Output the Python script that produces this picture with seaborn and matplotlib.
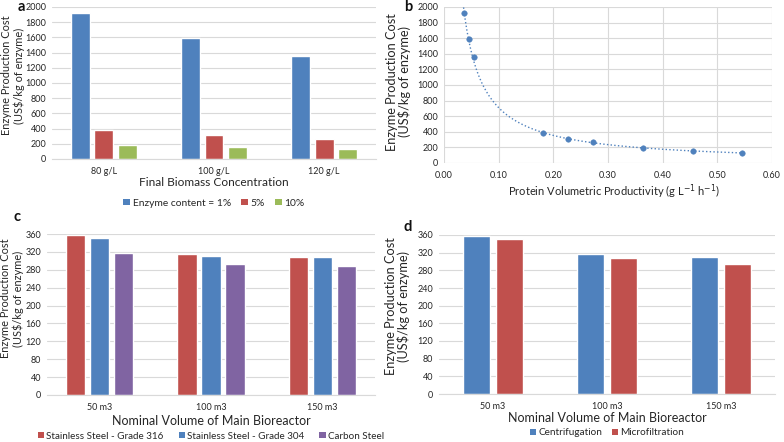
import numpy as np
import pandas as pd
import matplotlib
matplotlib.use("Agg")
import matplotlib.pyplot as plt
from matplotlib.patches import Patch
import seaborn as sns

sns.set_style("white")
plt.rcParams['font.family'] = ['Lato', 'DejaVu Sans']

# ---- data ----
biomass_cats = ["80 g/L", "100 g/L", "120 g/L"]
enzyme_series = ["Enzyme content = 1%", "5%", "10%"]
cost_1pct = [1925, 1595, 1360]
cost_5pct = [380, 310, 265]
cost_10pct = [185, 155, 130]

productivity = [0.036, 0.045, 0.054, 0.182, 0.227, 0.273, 0.364, 0.455, 0.545]
prod_cost = [1925, 1595, 1360, 380, 310, 265, 190, 155, 130]

volume_cats = ["50 m3", "100 m3", "150 m3"]
material_series = ["Stainless Steel - Grade 316", "Stainless Steel - Grade 304", "Carbon Steel"]
cost_ss316 = [358, 315, 309]
cost_ss304 = [351, 311, 309]
cost_carbon = [318, 292, 289]

sep_series = ["Centrifugation", "Microfiltration"]
cost_centrif = [357, 317, 310]
cost_microf = [352, 307, 295]

BLUE = "#4F81BD"
RED = "#C0504D"
GREEN = "#9BBB59"
PURPLE = "#8064A2"
GRID = "#D9D9D9"
TXT = "#262626"
YLAB = "Enzyme Production Cost\n(US$/kg of enzyme)"

W, H = 784, 442
fig = plt.figure(figsize=(W / 100, H / 100), dpi=100)


def add_ax(left, right, top, bottom):
    return fig.add_axes([left / W, 1 - bottom / H, (right - left) / W, (bottom - top) / H])


def long_df(cats, names, arrays):
    rows = []
    for name, arr in zip(names, arrays):
        for c, v in zip(cats, arr):
            rows.append({"cat": c, "series": name, "val": v})
    return pd.DataFrame(rows)


def set_labels(ax, xlabel, xsize, xcoords, ysize, ycoords, yls):
    ax.set_xlabel(xlabel, fontsize=xsize, color=TXT)
    ax.xaxis.set_label_coords(*xcoords)
    ax.set_ylabel(YLAB, fontsize=ysize, color=TXT, linespacing=yls)
    ax.yaxis.set_label_coords(*ycoords)


def style_bar_ax(ax, ymax, step):
    ax.set_ylim(0, ymax)
    ax.set_yticks(np.arange(0, ymax + 1, step))
    ax.set_xlim(-0.47, 2.47)
    ax.yaxis.grid(True, color=GRID, lw=0.8)
    ax.set_axisbelow(True)
    for s in ["top", "right", "left"]:
        ax.spines[s].set_visible(False)
    ax.spines["bottom"].set_color(GRID)
    ax.tick_params(axis="both", length=0, labelsize=6.5, colors=TXT, pad=4)
    ax.tick_params(axis="x", pad=6)


def bar_legend(ax, names, colors, anchor_y, spacing, size):
    handles = [Patch(facecolor=c, edgecolor="none", label=n) for n, c in zip(names, colors)]
    leg = ax.legend(handles=handles, loc="center", bbox_to_anchor=(0.5, anchor_y),
                    bbox_transform=ax.transAxes, ncol=len(handles), frameon=False,
                    fontsize=size, handlelength=0.65, handleheight=0.65,
                    handletextpad=0.25, columnspacing=spacing, borderaxespad=0, borderpad=0)
    for t in leg.get_texts():
        t.set_color(TXT)
    return leg


# ---- panel a ----
axa = add_ax(52, 376, 7, 159)
pal_a = [BLUE, RED, GREEN]
dfa = long_df(biomass_cats, enzyme_series, [cost_1pct, cost_5pct, cost_10pct])
sns.barplot(data=dfa, x="cat", y="val", hue="series", palette=pal_a,
            width=0.645, gap=0.2, ax=axa, saturation=1, legend=False)
style_bar_ax(axa, 2000, 200)
set_labels(axa, "Final Biomass Concentration", 8.6, (0.5, -0.118), 7.9, (-0.082, 0.55), 1.2)
bar_legend(axa, enzyme_series, pal_a, -0.29, 1.0, 7.4)

# ---- panel b ----
axb = add_ax(444, 772, 7, 163)
x = np.array(productivity)
y = np.array(prod_cost)
b_exp, log_a = np.polyfit(np.log(x), np.log(y), 1)
xf = np.linspace(x.min() * 0.97, x.max(), 300)
yf = np.exp(log_a) * xf ** b_exp
sns.lineplot(x=xf, y=yf, ax=axb, color=BLUE, lw=1, linestyle=":")
sns.scatterplot(x=x, y=y, ax=axb, color=BLUE, s=16, edgecolor=BLUE, zorder=3)
axb.set_xlim(0, 0.6)
axb.set_ylim(0, 2000)
xt = np.arange(0, 0.61, 0.1)
axb.set_xticks(xt)
axb.set_xticklabels([f"{v:.2f}" for v in xt])
axb.set_yticks(np.arange(0, 2001, 200))
axb.grid(True, color=GRID, lw=0.8)
axb.set_axisbelow(True)
for s in axb.spines.values():
    s.set_visible(False)
axb.tick_params(axis="both", length=0, labelsize=6.5, colors=TXT, pad=4)
axb.tick_params(axis="x", pad=6)
set_labels(axb, "Protein Volumetric Productivity (g L$^{-1}$ h$^{-1}$)", 8.0, (0.52, -0.128),
           9.2, (-0.1, 0.52), 1.05)

# ---- panel c ----
axc = add_ax(47, 375, 234, 395)
pal_c = [RED, BLUE, PURPLE]
dfc = long_df(volume_cats, material_series, [cost_ss316, cost_ss304, cost_carbon])
sns.barplot(data=dfc, x="cat", y="val", hue="series", palette=pal_c,
            width=0.645, gap=0.2, ax=axc, saturation=1, legend=False)
style_bar_ax(axc, 360, 40)
set_labels(axc, "Nominal Volume of Main Bioreactor", 9.0, (0.5, -0.124), 7.9, (-0.07, 0.6), 1.2)
bar_legend(axc, material_series, pal_c, -0.255, 1.5, 7.1)

# ---- panel d ----
axd = add_ax(439, 775, 235, 394)
pal_d = [BLUE, RED]
dfd = long_df(volume_cats, sep_series, [cost_centrif, cost_microf])
sns.barplot(data=dfd, x="cat", y="val", hue="series", palette=pal_d,
            width=0.58, gap=0.18, ax=axd, saturation=1, legend=False)
style_bar_ax(axd, 360, 40)
set_labels(axd, "Nominal Volume of Main Bioreactor", 9.0, (0.5, -0.113), 9.2, (-0.085, 0.55), 1.05)
bar_legend(axd, sep_series, pal_d, -0.245, 0.9, 7.2)

# ---- panel letters ----
for lbl, px, py in [("a", 18, 0), ("b", 404, 0), ("c", 13, 210), ("d", 404, 220)]:
    fig.text(px / W, 1 - py / H, lbl, fontsize=10.5, fontweight="bold", va="top", ha="left",
             color="#111111")

fig.savefig("out.png", dpi=100)
